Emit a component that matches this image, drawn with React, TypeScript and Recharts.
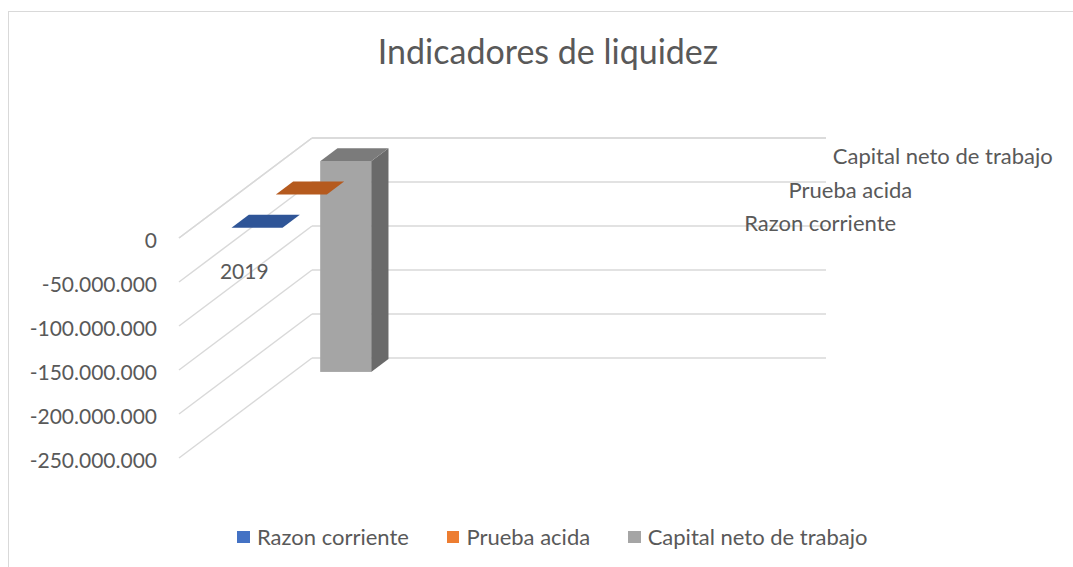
import React from "react";
import { BarChart, Bar, XAxis, YAxis, CartesianGrid, Legend, ReferenceLine } from "recharts";

const years = ["2019"];
const razonCorriente = [1.52];
const pruebaAcida = [1.18];
const capitalNeto = [-239500000];
const seriesNames = ["Razon corriente", "Prueba acida", "Capital neto de trabajo"];
const seriesKeys = ["rc", "pa", "cnt"];
const seriesColors = ["#4472C4", "#ED7D31", "#A5A5A5"];
const yTicks = [0, -50000000, -100000000, -150000000, -200000000, -250000000];

const data = years.map((year, i) => ({ year, rc: razonCorriente[i], pa: pruebaAcida[i], cnt: capitalNeto[i] }));

// fake 3d: how far the back wall sits from the front axis
const DEPTH_X = 133;
const DEPTH_Y = 100;
const BOX_DEPTH = 0.13;
const TEXT = "#595959";
const GRID = "#D9D9D9";
const FONT = "Lato, 'Noto Sans', sans-serif";

const faces = [
  { top: "#2F5597", side: "#2A4B86" },
  { top: "#B55A1E", side: "#A04F1B" },
  { top: "#7B7B7B", side: "#6A6A6A" },
];

const fmt = (v: number) => (v < 0 ? "-" : "") + Math.abs(v).toString().replace(/\B(?=(\d{3})+(?!\d))/g, ".");

function Box3D(props: any) {
  const { x, y, width, height, fill, idx } = props;
  const f = faces[idx];
  const top = Math.min(y, y + height);
  const bottom = Math.max(y, y + height);
  const d0 = (idx + 0.5) / 3 - BOX_DEPTH / 2;
  const L = x + d0 * DEPTH_X, R = L + width;
  const T = top - d0 * DEPTH_Y, B = bottom - d0 * DEPTH_Y;
  const bx = BOX_DEPTH * DEPTH_X, by = BOX_DEPTH * DEPTH_Y;
  const tall = B - T > 0.5;
  return (
    <g>
      {tall && <polygon points={`${R},${T} ${R + bx},${T - by} ${R + bx},${B - by} ${R},${B}`} fill={f.side} />}
      {tall && <rect x={L} y={T} width={width} height={B - T} fill={fill} />}
      <polygon points={`${L},${T} ${R},${T} ${R + bx},${T - by} ${L + bx},${T - by}`} fill={f.top} />
    </g>
  );
}

function WallLine(p: any) {
  const { x1, x2, y1 } = p;
  return (
    <g key={p.key}>
      <line x1={x1} y1={y1} x2={x1 + DEPTH_X} y2={y1 - DEPTH_Y} stroke={GRID} strokeWidth={1.5} />
      <line x1={x1 + DEPTH_X} y1={y1 - DEPTH_Y} x2={x2 + DEPTH_X} y2={y1 - DEPTH_Y} stroke={GRID} strokeWidth={1.5} />
    </g>
  );
}

function DepthLabels(p: any) {
  const { x2, y1 } = p;
  return (
    <g>
      {seriesNames.map((n, i) => {
        const c = (i + 0.5) / 3;
        return (
          <text key={n} x={x2 + c * DEPTH_X + 29} y={y1 - c * DEPTH_Y + 1} dominantBaseline="central"
            fill={TEXT} fontSize={22} fontFamily={FONT}>{n}</text>
        );
      })}
    </g>
  );
}

function YearTick(p: any) {
  return (
    <text x={p.x + 1} y={p.y} dy={32} textAnchor="middle" dominantBaseline="central" fill={TEXT} fontSize={21} fontFamily={FONT}>
      {p.payload.value}
    </text>
  );
}

function LegendBox(props: any) {
  const items = seriesNames.map((n) => (props.payload || []).find((p: any) => p.value === n)).filter(Boolean);
  return (
    <div style={{ display: "flex", justifyContent: "center", fontFamily: FONT, fontSize: 22, color: TEXT, lineHeight: "26px" }}>
      {items.map((it: any) => (
        <span key={it.value} style={{ display: "inline-flex", alignItems: "center", margin: "0 19px" }}>
          <span style={{ width: 12.5, height: 12.5, background: it.color, marginRight: 7, display: "inline-block" }} />
          <span>{it.value}</span>
        </span>
      ))}
    </div>
  );
}

export default function App() {
  return (
    <div style={{ position: "absolute", left: 0, top: 0, width: 1073, height: 567, overflow: "hidden", background: "#fff" }}>
      <div style={{ position: "absolute", left: 8, top: 11, width: 1100, height: 600, border: "1.5px solid #D9D9D9", boxSizing: "border-box" }} />
      <div style={{ position: "absolute", left: 8, width: 1080, top: 33, lineHeight: "36px", textAlign: "center", fontFamily: FONT, fontSize: 34, color: TEXT }}>
        Indicadores de liquidez
      </div>
      <div style={{ position: "absolute", left: 0, top: 0 }}>
        <BarChart width={1073} height={567} data={data} margin={{ top: 237, right: 380, bottom: 109, left: 0 }}
          barSize={51} barGap={-51}>
          <CartesianGrid vertical={false} horizontal={WallLine} />
          <XAxis dataKey="year" orientation="top" height={1} axisLine={false} tickLine={false} tickSize={0} tickMargin={0}
            padding={{ left: 0, right: 385.5 }} tick={YearTick} interval={0} />
          <YAxis width={179} domain={[-250000000, 0]} ticks={yTicks} tickFormatter={fmt} axisLine={false} tickLine={false}
            tickMargin={16} tick={{ fill: TEXT, fontSize: 21, fontFamily: FONT, dy: 3 }} interval={0} />
          <ReferenceLine y={0} shape={DepthLabels} />
          {[2, 1, 0].map((i) => (
            <Bar key={seriesKeys[i]} dataKey={seriesKeys[i]} name={seriesNames[i]} fill={seriesColors[i]}
              isAnimationActive={false} shape={(p: any) => <Box3D {...p} idx={i} />} />
          ))}
          <Legend verticalAlign="middle" align="center" content={LegendBox}
            wrapperStyle={{ top: 524, left: 16, width: 1073 }} />
        </BarChart>
      </div>
    </div>
  );
}
